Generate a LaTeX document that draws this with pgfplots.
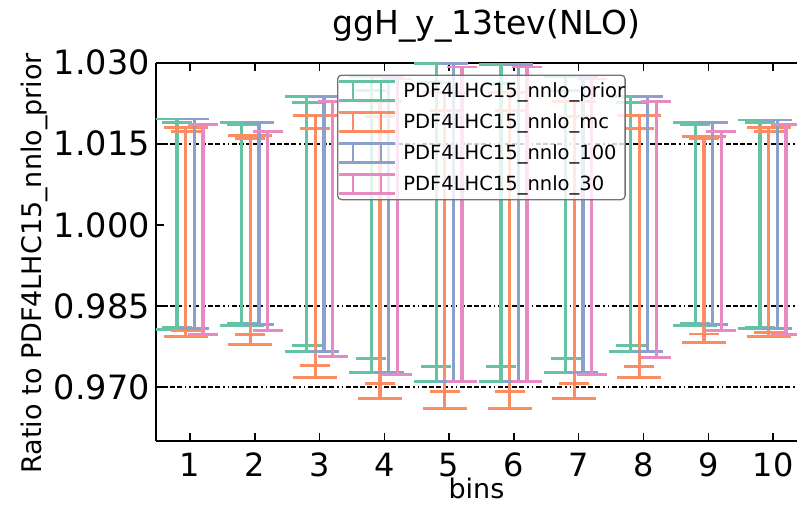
\documentclass[border=0pt]{standalone}
\usepackage{pgfplots}
\pgfplotsset{compat=1.18}
\usepackage{pgfplotstable}
\usepackage{fontspec}
\setmainfont{DejaVu Sans}
\definecolor{cg}{HTML}{66C2A5}
\definecolor{co}{HTML}{FC8D62}
\definecolor{cb}{HTML}{8DA0CB}
\definecolor{cp}{HTML}{E78AC3}

% prior: outer (1 sigma) and inner (68% CL) error bars
\pgfplotstableread{
x y ep em
0.8 1 0.0196 0.0193
1.8 1 0.0189 0.0186
2.8 1 0.0237 0.0234
3.8 1 0.0274 0.0273
4.8 1 0.0298 0.0290
5.8 1 0.0296 0.0290
6.8 1 0.0274 0.0273
7.8 1 0.0237 0.0234
8.8 1 0.0189 0.0186
9.8 1 0.0194 0.0192
}\gout
\pgfplotstableread{
x y ep em
0.8 1 0.0190 0.0190
1.8 1 0.0185 0.0182
2.8 1 0.0226 0.0224
3.8 1 0.0249 0.0248
4.8 1 0.0263 0.0262
5.8 1 0.0262 0.0262
6.8 1 0.0249 0.0248
7.8 1 0.0226 0.0224
8.8 1 0.0185 0.0182
9.8 1 0.0190 0.0190
}\gin
% mc
\pgfplotstableread{
x y ep em
0.9333 1 0.0180 0.0207
1.9333 1 0.0165 0.0221
2.9333 1 0.0203 0.0283
3.9333 1 0.0228 0.0321
4.9333 1 0.0245 0.0340
5.9333 1 0.0245 0.0340
6.9333 1 0.0228 0.0321
7.9333 1 0.0203 0.0283
8.9333 1 0.0164 0.0217
9.9333 1 0.0180 0.0207
}\oout
\pgfplotstableread{
x y ep em
0.9333 1 0.0172 0.0196
1.9333 1 0.0159 0.0203
2.9333 1 0.0178 0.0261
3.9333 1 0.0200 0.0294
4.9333 1 0.0212 0.0308
5.9333 1 0.0212 0.0308
6.9333 1 0.0200 0.0294
7.9333 1 0.0178 0.0262
8.9333 1 0.0159 0.0202
9.9333 1 0.0172 0.0199
}\oin
% 100
\pgfplotstableread{
x y ep em
1.0667 1 0.0196 0.0192
2.0667 1 0.0189 0.0185
3.0667 1 0.0237 0.0234
4.0667 1 0.0274 0.0273
5.0667 1 0.0299 0.0290
6.0667 1 0.0296 0.0290
7.0667 1 0.0274 0.0273
8.0667 1 0.0237 0.0234
9.0667 1 0.0189 0.0185
10.0667 1 0.0194 0.0192
}\bl
% 30
\pgfplotstableread{
x y ep em
1.2 1 0.0185 0.0203
2.2 1 0.0172 0.0195
3.2 1 0.0228 0.0243
4.2 1 0.0270 0.0277
5.2 1 0.0292 0.0290
6.2 1 0.0292 0.0290
7.2 1 0.0270 0.0277
8.2 1 0.0228 0.0245
9.2 1 0.0172 0.0195
10.2 1 0.0185 0.0203
}\pk

\pgfplotsset{
  ebar/.style n args={2}{forget plot, draw=none, mark=none,
    error bars/.cd, y dir=both, y explicit, error mark=|,
    error bar style={draw=#1, line width=3.3pt},
    error mark options={draw=#1, line width=2.8pt, mark size=#2}},
  eimg/.style={legend image code/.code={\draw[#1, line width=2.8pt] (0pt,-9.5pt) -- (56pt,-9.5pt) (0pt,9.5pt) -- (56pt,9.5pt) (14pt,-9.5pt) -- (14pt,9.5pt) (42pt,-9.5pt) -- (42pt,9.5pt);}},
}

\begin{document}
\begin{tikzpicture}
\begin{axis}[
  name=ax,
  scale only axis,
  width=641pt, height=378.3pt,
  xmin=0.475, xmax=10.37,
  ymin=0.960, ymax=1.030,
  axis x line*=box, axis y line*=left,
  xtick={1,2,3,4,5,6,7,8,9,10},
  ytick={0.970,0.985,1.000,1.015,1.030},
  xtick pos=both,
  /pgf/number format/assume math mode=true,
  yticklabel style={/pgf/number format/.cd, fixed, fixed zerofill, precision=3, /tikz/.cd,
     inner sep=0pt, xshift=-6pt, font=\fontsize{33.5}{33.5}\selectfont},
  xticklabel style={inner sep=0pt, yshift=-12pt, font=\fontsize{32}{32}\selectfont},
  tick align=inside,
  major tick length=8pt,
  tick style={line width=1.5pt, black},
  axis line style={line width=1.8pt, black},
  extra y ticks={0.970,0.985,1.015},
  extra y tick labels={},
  extra y tick style={grid=major, major tick length=0pt,
     major grid style={black, line width=1.6pt,
       dash pattern=on 5pt off 2pt on 5pt off 2pt on 5pt off 2pt on 5pt off 3pt on 1.5pt off 3pt on 1.5pt off 3pt}},
  title={ggH\_y\_13tev(NLO)},
  title style={at={(0.515,1.06)}, anchor=base, inner sep=0pt, font=\fontsize{33}{33}\selectfont},
  xlabel={bins},
  xlabel style={at={(0.5,-0.0978)}, anchor=north, inner sep=0pt, font=\fontsize{27}{27}\selectfont},
  ylabel={Ratio to PDF4LHC15\_nnlo\_prior},
  ylabel style={at={(-0.211,0.47)}, anchor=north, inner sep=0pt, font=\fontsize{27}{27}\selectfont},
  legend style={at={(rel axis cs:0.2824,0.9688)}, anchor=north west,
     draw=black!55, line width=1.3pt, rounded corners=4pt,
     fill=white, fill opacity=0.82, text opacity=1, draw opacity=1,
     inner xsep=0pt, inner ysep=5pt, row sep=9.1pt, column sep=7pt,
     font=\fontsize{19.5}{19.5}\selectfont, nodes={inner sep=0pt}},
  legend cell align=left,
]
\addplot[ebar={cg}{15pt}] table[x=x,y=y,y error plus=ep,y error minus=em] {\gin};
\addplot[ebar={cg}{22pt}] table[x=x,y=y,y error plus=ep,y error minus=em] {\gout};
\addplot[ebar={co}{15pt}] table[x=x,y=y,y error plus=ep,y error minus=em] {\oin};
\addplot[ebar={co}{22pt}] table[x=x,y=y,y error plus=ep,y error minus=em] {\oout};
\addplot[ebar={cb}{15pt}] table[x=x,y=y,y error plus=ep,y error minus=em] {\bl};
\addplot[ebar={cp}{15pt}] table[x=x,y=y,y error plus=ep,y error minus=em] {\pk};

\addlegendimage{eimg=cg}
\addlegendentry{PDF4LHC15\_nnlo\_prior\hspace{9pt}}
\addlegendimage{eimg=co}
\addlegendentry{PDF4LHC15\_nnlo\_mc}
\addlegendimage{eimg=cb}
\addlegendentry{PDF4LHC15\_nnlo\_100}
\addlegendimage{eimg=cp}
\addlegendentry{PDF4LHC15\_nnlo\_30}
\end{axis}
\pgfresetboundingbox
\path[use as bounding box] (ax.south west) ++(-156pt,-64pt) rectangle ([shift={(0pt,62.7pt)}]ax.north east);
\end{tikzpicture}
\end{document}
